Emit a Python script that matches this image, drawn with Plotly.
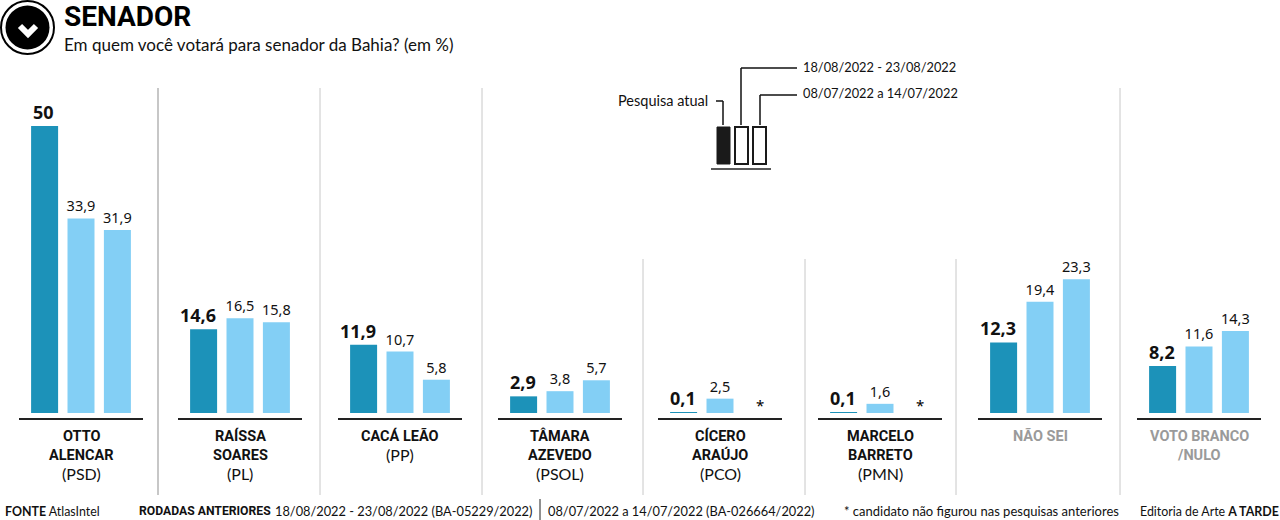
import plotly.graph_objects as go

W, H = 1280, 520
candidates = ["OTTO<br>ALENCAR", "RAÍSSA<br>SOARES", "CACÁ LEÃO", "TÂMARA<br>AZEVEDO",
              "CÍCERO<br>ARAÚJO", "MARCELO<br>BARRETO", "NÃO SEI", "VOTO BRANCO<br>/NULO"]
parties = ["(PSD)", "(PL)", "(PP)", "(PSOL)", "(PCO)", "(PMN)", "", ""]
atual = [50, 14.6, 11.9, 2.9, 0.1, 0.1, 12.3, 8.2]
rodada_ago = [33.9, 16.5, 10.7, 3.8, 2.5, 1.6, 19.4, 11.6]
rodada_jul = [31.9, 15.8, 5.8, 5.7, None, None, 23.3, 14.3]
group_px = [81, 240, 400, 560, 720, 880, 1040, 1199]

DARK, LIGHT = "#1c92b9", "#83cff5"
INK = "#111111"
FONT = "Lato"
NUM = "Noto Sans"
NARROW = "Roboto"
PX_PER_UNIT = 5.74
BASE_Y = 413

def fmt(v):
    return "" if v is None else f"{v:g}".replace(".", ",")

def px(x):
    return x / W

def py(y):
    return 1 - y / H

STEP = 36.4
fig = go.Figure()
for vals, off, color in [(atual, -1, DARK), (rodada_ago, 0, LIGHT), (rodada_jul, 1, LIGHT)]:
    is_current = off == -1
    fig.add_bar(
        x=[g + off * STEP for g in group_px], y=vals, width=27,
        marker=dict(color=color, line_width=0),
        text=None if is_current else [fmt(v) for v in vals],
        textposition="outside", cliponaxis=False,
        constraintext="none", textangle=0,
        textfont=dict(family=NUM, size=14.5, color=INK),
        showlegend=False, hoverinfo="skip",
    )

shapes = []
annos = []

# bold labels of the current round, wide ones sit slightly left of their bar
for g, v in zip(group_px, atual):
    label = fmt(v)
    annos.append(dict(xref="x", yref="y", x=g - STEP, y=v, text=label, showarrow=False,
                      xanchor="center", yanchor="bottom", borderpad=0,
                      xshift=-6 if len(label) > 3 else -1, yshift=1,
                      font=dict(family=NUM, size=18, color=INK, weight="bold")))

def line(x0, y0, x1, y1, color="#111111", w=1.5):
    shapes.append(dict(type="line", xref="paper", yref="paper", x0=px(x0), y0=py(y0), x1=px(x1), y1=py(y1),
                       line=dict(color=color, width=w)))

def text(x, y, s, size=13, color=INK, anchor="center", yanchor="middle", weight="normal", family=FONT):
    annos.append(dict(xref="paper", yref="paper", x=px(x), y=py(y), text=s, showarrow=False,
                      xanchor=anchor, yanchor=yanchor, align=anchor, borderpad=0,
                      font=dict(family=family, size=size, color=color, weight=weight)))

# separators
for x, top, c in [(158, 88, "#8f8f8f"), (320, 88, "#c8c8c8"), (482, 88, "#c8c8c8"), (643, 259, "#c8c8c8"),
                  (805, 259, "#c8c8c8"), (956, 259, "#c8c8c8"), (1120, 88, "#c8c8c8")]:
    line(x, top, x, 495, c, 1)

# baselines + category labels
for i, g in enumerate(group_px):
    line(g - 62, 419, g + 62, 419, "#222222", 2)
    grey = candidates[i] in ("NÃO SEI", "VOTO BRANCO<br>/NULO")
    lines = candidates[i].split("<br>")
    y = 436
    for l in lines:
        text(g, y, l, 14.5, "#9a9a9a" if grey else INK, weight="bold", family=NARROW)
        y += 19
    if parties[i]:
        text(g, y - 0.5, parties[i], 16, INK)

# missing-value markers
for i, v in enumerate(rodada_jul):
    if v is None:
        text(group_px[i] + STEP + 4, 405, "*", 15, "#000000", family=NUM)

# header
text(63, 17, "SENADOR", 28, "#000000", "left", weight="bold", family=NARROW)
text(63, 44, "Em quem você votará para senador da Bahia? (em %)", 17, "#111111", "left")

# icon
def circle(cx, cy, r, fill, outline=None, w=0):
    shapes.append(dict(type="circle", xref="paper", yref="paper", x0=px(cx - r), x1=px(cx + r), y0=py(cy + r), y1=py(cy - r),
                       fillcolor=fill, line=dict(color=outline or fill, width=w)))
circle(27.5, 27.5, 26.5, "#ffffff", "#000000", 2)
circle(27.5, 27.5, 22, "#000000")
shapes.append(dict(type="path", xref="paper", yref="paper",
                   path=f"M {px(20)} {py(26)} L {px(28)} {py(34)} L {px(36)} {py(26)}",
                   line=dict(color="#ffffff", width=6)))

# legend key
shapes.append(dict(type="rect", xref="paper", yref="paper", x0=px(717), x1=px(730), y0=py(164), y1=py(127),
                   fillcolor="#1a1a1a", line=dict(color="#1a1a1a", width=1)))
for x0 in (735, 753):
    shapes.append(dict(type="rect", xref="paper", yref="paper", x0=px(x0), x1=px(x0 + 13), y0=py(164), y1=py(127),
                       fillcolor="#ffffff", line=dict(color="#1a1a1a", width=2)))
line(711, 169, 771, 169, "#222222", 1.5)
line(716, 101, 723, 101); line(723, 101, 723, 125)
line(741, 68, 741, 125); line(741, 68, 797, 68)
line(760, 95, 760, 125); line(760, 95, 797, 95)
text(709, 101, "Pesquisa atual", 14.5, INK, "right")
text(802, 67, "18/08/2022 - 23/08/2022", 12.8, INK, "left")
text(802, 93, "08/07/2022 a 14/07/2022", 12.8, INK, "left")

# footer
text(4, 511, "<b>FONTE</b> AtlasIntel", 12.4, INK, "left")
text(138, 511, "RODADAS ANTERIORES", 12.2, INK, "left", weight="bold", family=NARROW)
text(274, 511, "18/08/2022 - 23/08/2022 (BA-05229/2022)", 12.8, INK, "left")
line(540, 499, 540, 520, "#222222", 1)
text(547, 511, "08/07/2022 a 14/07/2022 (BA-026664/2022)", 12.8, INK, "left")
text(843, 511, "* candidato não figurou nas pesquisas anteriores", 13, INK, "left")
text(1280, 511, "Editoria de Arte <b>A TARDE</b>", 12.4, INK, "right")

fig.update_layout(
    width=W, height=H, margin=dict(l=0, r=0, t=0, b=0),
    paper_bgcolor="white", plot_bgcolor="white", barmode="overlay",
    font=dict(family=FONT),
    xaxis=dict(range=[0, W], visible=False, fixedrange=True, domain=[0, 1]),
    yaxis=dict(range=[(BASE_Y - H) / PX_PER_UNIT, BASE_Y / PX_PER_UNIT], visible=False, fixedrange=True, domain=[0, 1]),
    shapes=shapes, annotations=annos,
)
fig.write_html("out.html", config=dict(displayModeBar=False),
               post_script="document.body.style.margin='0';document.body.style.overflow='hidden';")
